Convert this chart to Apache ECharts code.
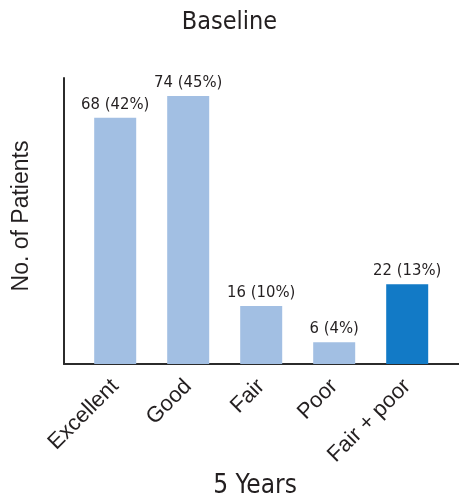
<!DOCTYPE html>
<html>
<head>
<meta charset="utf-8">
<script src="https://cdn.jsdelivr.net/npm/echarts@6/dist/echarts.min.js"></script>
<style>
  html, body { margin: 0; padding: 0; background: #ffffff; }
  #chart { width: 459px; height: 498px; }
</style>
</head>
<body>
<div id="chart"></div>
<script>
// Outcome ratings at 5 years
const categories = ['Excellent', 'Good', 'Fair', 'Poor', 'Fair + poor'];
const patients = [68, 74, 16, 6, 22];
const percents = [42, 45, 10, 4, 13];
const combinedIndex = 4; // "Fair + poor" is the summed group

const narrow = "'Liberation Sans Narrow', 'DejaVu Sans Condensed', 'Liberation Sans', sans-serif";
const regular = "'Liberation Sans', Arial, sans-serif";
const ink = '#231f20';
const axisColor = '#2b2b2b';

const chart = echarts.init(document.getElementById('chart'), null, { renderer: 'canvas' });

chart.setOption({
  animation: false,
  backgroundColor: '#ffffff',
  grid: [
    // bars
    { left: 78.7, right: 15.3, top: 78, bottom: 134 },
    // frame carrying the visible axis lines
    { left: 64, right: 0, top: 78, bottom: 134 }
  ],
  xAxis: [
    {
      type: 'category', gridIndex: 0, data: categories,
      axisLine: { show: false }, axisTick: { show: false },
      axisLabel: {
        interval: 0, rotate: 45, margin: 19,
        fontFamily: regular, fontSize: 22, color: ink
      }
    },
    {
      type: 'value', gridIndex: 1, min: 0, max: 1,
      axisLine: { show: true, lineStyle: { color: axisColor, width: 2 } },
      axisTick: { show: false }, axisLabel: { show: false }, splitLine: { show: false }
    }
  ],
  yAxis: [
    {
      type: 'value', gridIndex: 0, min: 0, max: 79,
      axisLine: { show: false }, axisTick: { show: false },
      axisLabel: { show: false }, splitLine: { show: false }
    },
    {
      type: 'value', gridIndex: 1, min: 0, max: 1,
      axisLine: { show: true, lineStyle: { color: axisColor, width: 2 } },
      axisTick: { show: false }, axisLabel: { show: false }, splitLine: { show: false }
    }
  ],
  series: [
    {
      type: 'bar', xAxisIndex: 0, yAxisIndex: 0,
      data: patients,
      barWidth: 42,
      itemStyle: {
        color: (p) => p.dataIndex === combinedIndex ? '#127ac6' : '#a2bfe3'
      },
      label: {
        show: true, position: 'top', distance: 5,
        fontFamily: narrow, fontSize: 16.5, color: ink,
        formatter: (p) => patients[p.dataIndex] + ' (' + percents[p.dataIndex] + '%)'
      }
    }
  ],
  graphic: [
    {
      type: 'text', left: 'center', top: 10,
      style: { text: 'Baseline', font: '25px ' + narrow, fill: ink }
    },
    {
      type: 'text', x: 22, y: 216, rotation: Math.PI / 2,
      style: { text: 'No. of Patients', font: '23px ' + regular, fill: ink, align: 'center', verticalAlign: 'middle' }
    },
    {
      type: 'text', x: 255, y: 486,
      style: { text: '5 Years', font: '26px ' + narrow, fill: ink, align: 'center', verticalAlign: 'middle' }
    }
  ]
});
</script>
</body>
</html>
